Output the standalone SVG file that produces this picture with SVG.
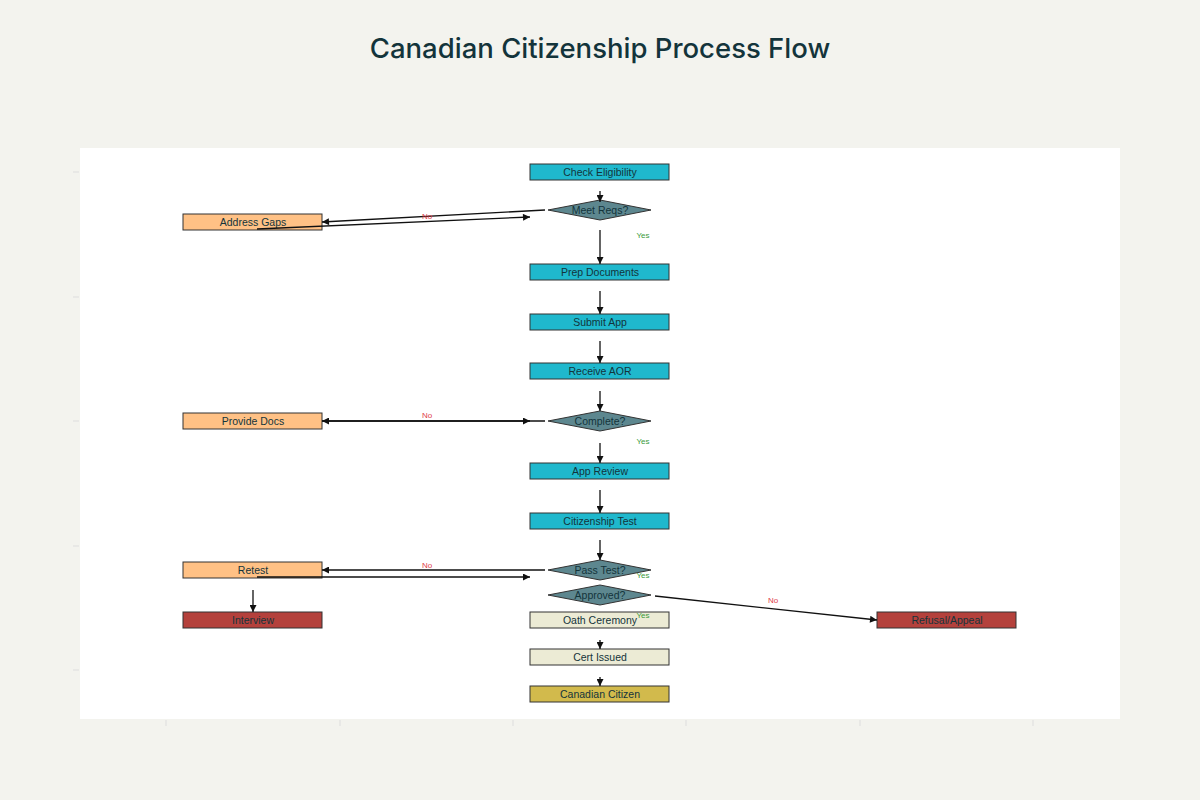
<svg xmlns="http://www.w3.org/2000/svg" width="1200" height="800" viewBox="0 0 1200 800">
<defs>
<marker id="ah" viewBox="0 0 10 10" refX="10" refY="5" markerWidth="8" markerHeight="7" markerUnits="userSpaceOnUse" orient="auto">
<path d="M0,0 L10,5 L0,10 z" fill="#111"/>
</marker>
<style>
.bg{fill:#f3f3ee}
.plot{fill:#fff}
.tick{stroke:#ddd;stroke-width:1}
.box{stroke:#333;stroke-width:1}
.teal{fill:#1fb8cd}
.dia{fill:#5d878f;stroke:#333;stroke-width:1}
.org{fill:#ffc185}
.red{fill:#b4413c}
.beige{fill:#ecebd5}
.gold{fill:#d2ba4c}
.t{font-family:"Liberation Sans",Arial,sans-serif;font-size:10.5px;fill:#13343b;text-anchor:middle;dominant-baseline:central}
.c{stroke:#111;stroke-width:1.3;fill:none;marker-end:url(#ah)}
.no{font-family:"Liberation Sans",Arial,sans-serif;font-size:8px;fill:#e0404a;text-anchor:middle}
.yes{font-family:"Liberation Sans",Arial,sans-serif;font-size:8px;fill:#3a9a3a;text-anchor:middle}
.title{font-family:Inter,"Liberation Sans",sans-serif;font-size:27.5px;font-weight:500;fill:#13343b;text-anchor:middle}
</style>
</defs>
<rect class="bg" x="0" y="0" width="1200" height="800"/>
<text class="title" x="600" y="58">Canadian Citizenship Process Flow</text>
<rect class="plot" x="80" y="148" width="1040" height="571"/>
<g id="ticks">
<line class="tick" x1="73" y1="172" x2="79" y2="172"/>
<line class="tick" x1="73" y1="297" x2="79" y2="297"/>
<line class="tick" x1="73" y1="421" x2="79" y2="421"/>
<line class="tick" x1="73" y1="546" x2="79" y2="546"/>
<line class="tick" x1="73" y1="670" x2="79" y2="670"/>
<line class="tick" x1="166" y1="720" x2="166" y2="726"/>
<line class="tick" x1="340" y1="720" x2="340" y2="726"/>
<line class="tick" x1="513" y1="720" x2="513" y2="726"/>
<line class="tick" x1="686" y1="720" x2="686" y2="726"/>
<line class="tick" x1="860" y1="720" x2="860" y2="726"/>
<line class="tick" x1="1033" y1="720" x2="1033" y2="726"/>
</g>
<g id="n-check"><rect class="box teal" x="530" y="164" width="139" height="16"/><text class="t" x="600" y="172">Check Eligibility</text></g>
<g id="n-meet"><polygon class="dia" points="548,210 600,200 651,210 600,220"/><text class="t" x="600" y="210">Meet Reqs?</text></g>
<g id="n-gaps"><rect class="box org" x="183" y="214" width="139" height="16"/><text class="t" x="253" y="222">Address Gaps</text></g>
<g id="n-prep"><rect class="box teal" x="530" y="264" width="139" height="16"/><text class="t" x="600" y="272">Prep Documents</text></g>
<g id="n-submit"><rect class="box teal" x="530" y="314" width="139" height="16"/><text class="t" x="600" y="322">Submit App</text></g>
<g id="n-aor"><rect class="box teal" x="530" y="363" width="139" height="16"/><text class="t" x="600" y="371">Receive AOR</text></g>
<g id="n-complete"><polygon class="dia" points="548,421 600,411 651,421 600,431"/><text class="t" x="600" y="421">Complete?</text></g>
<g id="n-provide"><rect class="box org" x="183" y="413" width="139" height="16"/><text class="t" x="253" y="421">Provide Docs</text></g>
<g id="n-review"><rect class="box teal" x="530" y="463" width="139" height="16"/><text class="t" x="600" y="471">App Review</text></g>
<g id="n-test"><rect class="box teal" x="530" y="513" width="139" height="16"/><text class="t" x="600" y="521">Citizenship Test</text></g>
<g id="n-pass"><polygon class="dia" points="548,570 600,560 651,570 600,580"/><text class="t" x="600" y="570">Pass Test?</text></g>
<g id="n-retest"><rect class="box org" x="183" y="562" width="139" height="16"/><text class="t" x="253" y="570">Retest</text></g>
<g id="n-approved"><polygon class="dia" points="548,595 600,585 651,595 600,605"/><text class="t" x="600" y="595">Approved?</text></g>
<g id="n-interview"><rect class="box red" x="183" y="612" width="139" height="16"/><text class="t" x="253" y="620">Interview</text></g>
<g id="n-oath"><rect class="box beige" x="530" y="612" width="139" height="16"/><text class="t" x="600" y="620">Oath Ceremony</text></g>
<g id="n-refusal"><rect class="box red" x="877" y="612" width="139" height="16"/><text class="t" x="947" y="620">Refusal/Appeal</text></g>
<g id="n-cert"><rect class="box beige" x="530" y="649" width="139" height="16"/><text class="t" x="600" y="657">Cert Issued</text></g>
<g id="n-citizen"><rect class="box gold" x="530" y="686" width="139" height="16"/><text class="t" x="600" y="694">Canadian Citizen</text></g>
<g id="connectors">
<line class="c" x1="600" y1="191" x2="600" y2="202"/>
<line class="c" x1="545" y1="210" x2="322" y2="222"/>
<line class="c" x1="257" y1="229" x2="530" y2="217"/>
<line class="c" x1="600" y1="230" x2="600" y2="264"/>
<line class="c" x1="600" y1="291" x2="600" y2="314"/>
<line class="c" x1="600" y1="341" x2="600" y2="363"/>
<line class="c" x1="600" y1="391" x2="600" y2="411"/>
<line class="c" x1="545" y1="421" x2="322" y2="421"/>
<line class="c" x1="322" y1="421" x2="530" y2="421"/>
<line class="c" x1="600" y1="443" x2="600" y2="463"/>
<line class="c" x1="600" y1="490" x2="600" y2="513"/>
<line class="c" x1="600" y1="540" x2="600" y2="560"/>
<line class="c" x1="545" y1="570" x2="322" y2="570"/>
<line class="c" x1="257" y1="577" x2="530" y2="577"/>
<line class="c" x1="253" y1="590" x2="253" y2="612"/>
<line class="c" x1="655" y1="596" x2="877" y2="620"/>
<line class="c" x1="600" y1="640" x2="600" y2="649"/>
<line class="c" x1="600" y1="677" x2="600" y2="686"/>
<text class="no" x="427" y="219">No</text>
<text class="yes" x="643" y="238">Yes</text>
<text class="no" x="427" y="418">No</text>
<text class="yes" x="643" y="444">Yes</text>
<text class="no" x="427" y="568">No</text>
<text class="yes" x="643" y="578">Yes</text>
<text class="no" x="773" y="603">No</text>
<text class="yes" x="643" y="618">Yes</text>
</g>
</svg>
